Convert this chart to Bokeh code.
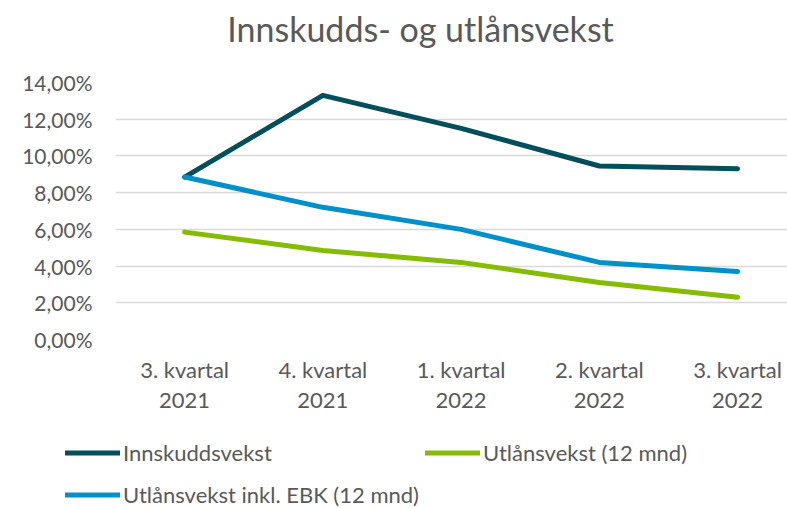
from bokeh.plotting import figure
from bokeh.layouts import column
from bokeh.models import Range1d, FixedTicker, Legend, LegendItem, Label
from bokeh.embed import file_html
from bokeh.resources import INLINE

# ---- data ----
categories = ["3. kvartal\n2021", "4. kvartal\n2021", "1. kvartal\n2022",
              "2. kvartal\n2022", "3. kvartal\n2022"]
innskuddsvekst = [8.85, 13.3, 11.5, 9.45, 9.3]
utlansvekst = [5.85, 4.85, 4.2, 3.1, 2.3]
utlansvekst_ebk = [8.85, 7.2, 6.0, 4.2, 3.7]
y_ticks = [0, 2, 4, 6, 8, 10, 12, 14]
y_tick_labels = ["0,00%", "2,00%", "4,00%", "6,00%", "8,00%", "10,00%", "12,00%", "14,00%"]
series_names = ["Innskuddsvekst", "Utlånsvekst (12 mnd)", "Utlånsvekst inkl. EBK (12 mnd)"]
series_colors = ["#004F5A", "#86BC00", "#0090C8"]
title_text = "Innskudds- og utlånsvekst"

FONT = "Lato"
TXT = "#595959"
W = 787


def no_align(fig):
    try:
        fig.frame_align = False
    except AttributeError:
        pass
    return fig


def bare(fig):
    fig.xaxis.visible = False
    fig.yaxis.visible = False
    fig.grid.visible = False
    fig.outline_line_color = None
    return no_align(fig)


x = list(range(len(categories)))
all_series = [innskuddsvekst, utlansvekst, utlansvekst_ebk]

# ---- title strip ----
TH = 56
tfig = bare(figure(width=W, height=TH, output_backend="svg", toolbar_location=None,
                   x_range=Range1d(0, W), y_range=Range1d(0, TH), min_border=0))
tfig.add_layout(Label(x=420, y=TH - 28, text=title_text, text_align="center",
                      text_baseline="middle", text_font=FONT, text_font_size="34px",
                      text_color=TXT))

# ---- main chart ----
p = no_align(figure(width=W, height=364, output_backend="svg", toolbar_location=None,
                    x_range=Range1d(-0.5, 4.361), y_range=Range1d(0, 14),
                    min_border_left=115, min_border_right=0, min_border_top=26,
                    min_border_bottom=81))
p.outline_line_color = None
p.xgrid.grid_line_color = None
p.ygrid.grid_line_color = "#D9D9D9"
p.ygrid.grid_line_width = 1.5
p.ygrid.ticker = FixedTicker(ticks=y_ticks)

p.yaxis.ticker = FixedTicker(ticks=y_ticks)
p.yaxis.major_label_overrides = {t: l for t, l in zip(y_ticks, y_tick_labels)}
p.xaxis.ticker = FixedTicker(ticks=x)
p.xaxis.major_label_overrides = {i: c for i, c in zip(x, categories)}

for ax in (p.xaxis, p.yaxis):
    ax.axis_line_color = None
    ax.major_tick_line_color = None
    ax.minor_tick_line_color = None
    ax.major_tick_out = 0
    ax.major_tick_in = 0
    ax.major_label_text_font = FONT
    ax.major_label_text_color = TXT
p.yaxis.major_label_text_font_size = "21px"
p.xaxis.major_label_text_font_size = "22px"
p.yaxis.major_label_standoff = 23
p.xaxis.major_label_standoff = 16
p.xaxis.major_label_text_line_height = 1.12

for vals, col in zip(all_series, series_colors):
    p.line(x, vals, line_color=col, line_width=5, line_cap="round", line_join="round")

# ---- legend strip (series drawn out of view; only legend swatches show) ----
LH = 88
lfig = bare(figure(width=W, height=LH, output_backend="svg", toolbar_location=None,
                   x_range=Range1d(100, 200), y_range=Range1d(100, 200), min_border=0))
lrs = [lfig.line(x, vals, line_color=col, line_width=5, line_cap="round")
       for vals, col in zip(all_series, series_colors)]
legend = Legend(items=[LegendItem(label=n, renderers=[r]) for n, r in zip(series_names, lrs)],
                location=(65, -7), orientation="horizontal", ncols=2,
                glyph_width=55, glyph_height=41, label_height=41, label_width=301,
                label_standoff=3, spacing=1, padding=0, margin=0,
                border_line_color=None, background_fill_alpha=0,
                label_text_font=FONT, label_text_font_size="22px", label_text_color=TXT)
lfig.add_layout(legend)

layout = column(tfig, p, lfig, spacing=0)
open("out.html", "w").write(file_html(layout, INLINE))
